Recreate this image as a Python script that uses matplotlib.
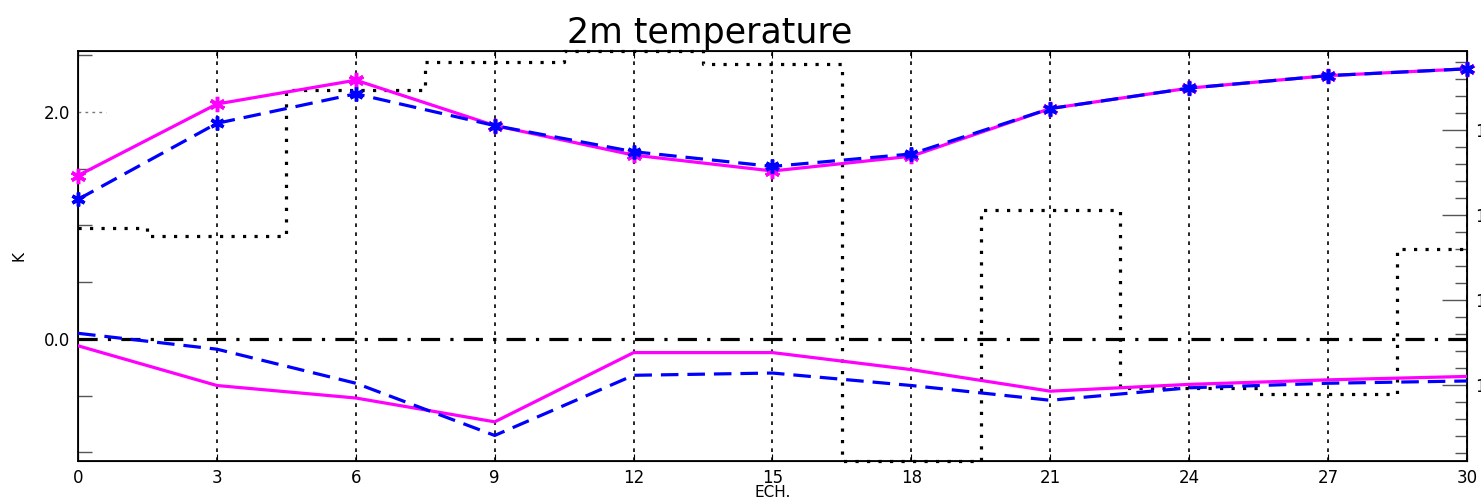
import numpy as np
import matplotlib
matplotlib.use("Agg")
import matplotlib.pyplot as plt

# forecast lead times (hours)
lead_times = [0, 3, 6, 9, 12, 15, 18, 21, 24, 27, 30]

# upper curves (rmse-like), K
rmse_magenta = [1.44, 2.07, 2.28, 1.88, 1.62, 1.48, 1.61, 2.03, 2.21, 2.32, 2.38]
rmse_blue = [1.23, 1.90, 2.16, 1.88, 1.65, 1.52, 1.63, 2.03, 2.21, 2.32, 2.38]

# lower curves (bias-like), K
bias_magenta = [-0.06, -0.41, -0.52, -0.73, -0.12, -0.12, -0.27, -0.46, -0.40, -0.36, -0.33]
bias_blue = [0.05, -0.09, -0.39, -0.85, -0.32, -0.30, -0.41, -0.54, -0.43, -0.39, -0.37]

# number of cases per lead time (right axis)
n_cases = [118.5, 117.5, 134.7, 138.0, 139.3, 137.8, 91.0, 120.6, 99.6, 98.9, 116.0]

left_ticks = [0.0, 2.0]
right_ticks = [100, 110, 120, 130]

MAGENTA = "#ff00ff"
BLUE = "#0000ff"

fig = plt.figure(figsize=(14.81, 5.0), dpi=100)
ax = fig.add_axes([0.0527, 0.078, 0.9378, 0.820])
ax2 = ax.twinx()

# put the main axes on top of the twin
ax.set_zorder(ax2.get_zorder() + 1)
ax.patch.set_visible(False)

# step line of case counts
ax2.step(lead_times, n_cases, where="mid", color="black", lw=2.3,
         linestyle=(0, (1, 2.6)), clip_on=False)
ax2.set_ylim(min(n_cases), max(n_cases))
ax2.set_yticks(right_ticks)
ax2.set_yticks(np.arange(92, 140, 2), minor=True)
ax2.set_yticklabels([str(t) for t in right_ticks])
ax2.tick_params(axis="y", which="major", direction="in", length=18, width=1,
                color="#555555", labelsize=12, pad=6)
ax2.tick_params(axis="y", which="minor", direction="in", length=9, width=1,
                color="#555555")

# vertical grid
for t in lead_times:
    ax.axvline(t, color="black", lw=1.2, linestyle=(0, (2.2, 3.2)), zorder=1)

# zero line
ax.axhline(0.0, color="black", lw=2.3, linestyle=(0, (6, 3.2, 1, 3.2)), zorder=2)
ax.axhline(2.0, xmax=0.02, color="#777777", lw=1, linestyle=(0, (2, 3)))

star = (6, 2, 0)
ax.plot(lead_times, rmse_magenta, color=MAGENTA, lw=2.3, marker=star,
        markersize=11, markeredgewidth=2.5, zorder=3, clip_on=False)
ax.plot(lead_times, rmse_blue, color=BLUE, lw=2.3, linestyle=(0, (5.5, 2.8)),
        marker=star, markersize=10, markeredgewidth=2.5, zorder=4, clip_on=False)
ax.plot(lead_times, bias_magenta, color=MAGENTA, lw=2.3, zorder=3)
ax.plot(lead_times, bias_blue, color=BLUE, lw=2.3, linestyle=(0, (5.5, 2.8)), zorder=4)

ax.set_xlim(0, 30)
ax.set_ylim(-1.075, 2.537)
ax.set_xticks(lead_times)
ax.set_yticks(left_ticks)
ax.set_yticklabels(["0.0", "2.0"])
ax.set_yticks([-1.0, -0.5, 0.5, 1.0, 1.5, 2.5], minor=True)
ax.tick_params(axis="y", which="major", direction="in", length=0, labelsize=12, pad=6)
ax.tick_params(axis="y", which="minor", direction="in", length=10, width=1,
               color="#555555")
ax.tick_params(axis="x", which="major", direction="in", length=5, top=True,
               labelsize=12, pad=6)
ax.set_xlabel("ECH.", fontsize=11, labelpad=-2)
ax.set_ylabel("K", fontsize=11, labelpad=12)

for s in ax.spines.values():
    s.set_linewidth(1.3)

fig.text(0.479, 0.935, "2m temperature", fontsize=25, ha="center", va="center")

fig.savefig("out.png", dpi=100)
